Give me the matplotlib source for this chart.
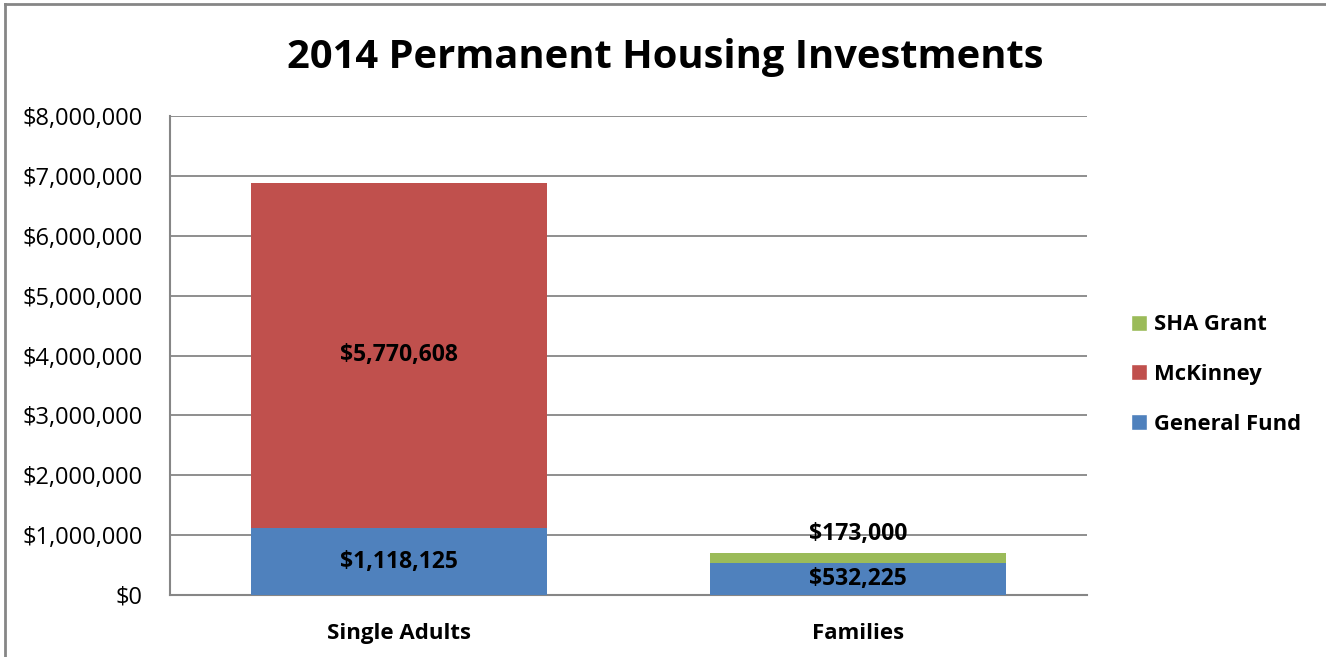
import matplotlib as mpl
mpl.use("Agg")
import numpy as np
import matplotlib.pyplot as plt
from matplotlib.ticker import FuncFormatter
from matplotlib.lines import Line2D

plt.rcParams["font.family"] = ["Open Sans", "DejaVu Sans"]

categories = ["Single Adults", "Families"]
general_fund = [1118125, 532225]
mckinney = [5770608, 0]
sha_grant = [0, 173000]

C_BLUE = "#4F81BD"
C_RED = "#C0504D"
C_GREEN = "#9BBB59"
GRID = "#868686"

fig = plt.figure(figsize=(13.26, 6.57), dpi=100)
ax = fig.add_axes([0.1282, 0.0944, 0.8198 - 0.1282, 0.8234 - 0.0944])

x = np.arange(len(categories))
w = 0.646
gf = np.array(general_fund)
mk = np.array(mckinney)
sh = np.array(sha_grant)

ax.bar(x, gf, w, color=C_BLUE, zorder=3)
ax.bar(x, mk, w, bottom=gf, color=C_RED, zorder=3)
ax.bar(x, sh, w, bottom=gf + mk, color=C_GREEN, zorder=3)

ax.set_xlim(-0.5, 1.5)
ax.set_ylim(0, 8000000)
ax.set_yticks(np.arange(0, 8000001, 1000000))
ax.yaxis.set_major_formatter(FuncFormatter(lambda v, p: f"${v:,.0f}"))
ax.set_xticks(x)
ax.set_xticklabels(categories, fontsize=16, fontweight="bold")
ax.tick_params(axis="y", labelsize=17, length=0, pad=19.5)
ax.tick_params(axis="x", length=0, pad=20)
ax.grid(axis="y", color=GRID, linewidth=1.3, zorder=0)
for s in ["top", "right"]:
    ax.spines[s].set_visible(False)
for s in ["left", "bottom"]:
    ax.spines[s].set_color(GRID)
    ax.spines[s].set_linewidth(1.5)

lab_kw = dict(ha="center", va="center", fontsize=16.5, fontweight="bold", zorder=5)
ax.text(x[0], gf[0] / 2, f"${gf[0]:,}", **lab_kw)
ax.text(x[0], gf[0] + mk[0] / 2, f"${mk[0]:,}", **lab_kw)
ax.text(x[1], gf[1] / 2, f"${gf[1]:,}", **lab_kw)
ax.text(x[1], gf[1] + sh[1] + 310000, f"${sh[1]:,}", **lab_kw)

fig.text(0.502, 0.912, "2014 Permanent Housing Investments", ha="center",
         va="center", fontsize=28.7, fontweight="bold")

handles = [
    Line2D([0], [0], marker="s", color="w", markerfacecolor=C_GREEN, markersize=12, label="SHA Grant"),
    Line2D([0], [0], marker="s", color="w", markerfacecolor=C_RED, markersize=12, label="McKinney"),
    Line2D([0], [0], marker="s", color="w", markerfacecolor=C_BLUE, markersize=12, label="General Fund"),
]
leg = fig.legend(handles=handles, loc="center left", bbox_to_anchor=(0.838, 0.43),
                 frameon=False, handlelength=0.7, handletextpad=0.35, labelspacing=1.3,
                 prop={"size": 15.8, "weight": "bold"})

# outer chart frame (top and left edges visible)
fig.add_artist(Line2D([0.004, 0.004], [0, 0.994], color=GRID, lw=2, transform=fig.transFigure))
fig.add_artist(Line2D([0.004, 1], [0.994, 0.994], color=GRID, lw=2, transform=fig.transFigure))

fig.savefig("out.png", dpi=100)
